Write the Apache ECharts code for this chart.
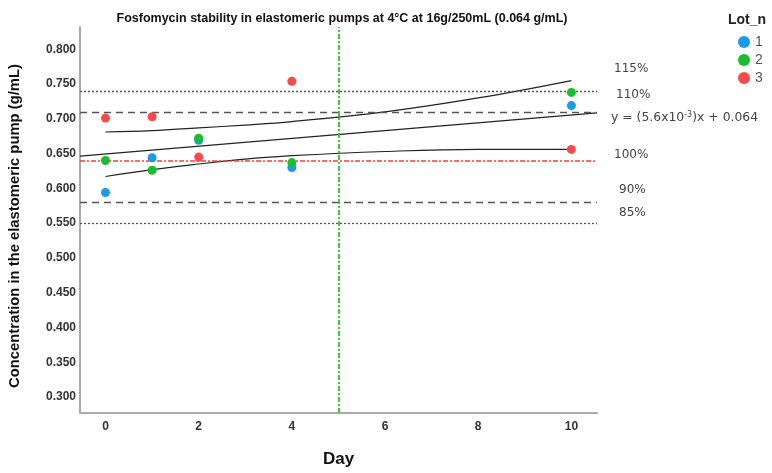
<!DOCTYPE html>
<html>
<head>
<meta charset="utf-8">
<script src="https://cdn.jsdelivr.net/npm/echarts@6/dist/echarts.min.js"></script>
<style>html,body{margin:0;padding:0;background:#fff}#c{width:772px;height:473px}</style>
</head>
<body>
<div id="c"></div>
<script>
// ---- data ----
var days = [0, 1, 2, 4, 10];
var lot1 = [0.594, 0.644, 0.669, 0.630, 0.719];
var lot2 = [0.640, 0.626, 0.672, 0.637, 0.738];
var lot3 = [0.701, 0.703, 0.645, 0.754, 0.656];
var lotNames = ['1', '2', '3'];
var bandDays = [0, 1, 2, 3, 4, 6, 8, 10];
var upperBand = [0.681, 0.683, 0.687, 0.691, 0.696, 0.710, 0.730, 0.755];
var lowerBand = [0.617, 0.627, 0.635, 0.642, 0.647, 0.653, 0.656, 0.656];
var refValues = [0.741, 0.709, 0.644, 0.580, 0.548];
var refLabels = ['115%', '110%', '100%', '90%', '85%'];
var equationText = 'y = (5.6x10{s|-3})x + 0.064';
var limitDay = 5;
var xTicks = [0, 2, 4, 6, 8, 10];
var yTicks = [0.300, 0.350, 0.400, 0.450, 0.500, 0.550, 0.600, 0.650, 0.700, 0.750, 0.800];
var xMin = -0.547, xMax = 10.55, yMin = 0.277, yMax = 0.832;

// least squares fit from all points
var xs = [], ys = [];
[lot1, lot2, lot3].forEach(function (arr) { arr.forEach(function (v, i) { xs.push(days[i]); ys.push(v); }); });
var mx = xs.reduce(function (a, b) { return a + b; }, 0) / xs.length;
var my = ys.reduce(function (a, b) { return a + b; }, 0) / ys.length;
var sxy = 0, sxx = 0;
for (var i = 0; i < xs.length; i++) { sxy += (xs[i] - mx) * (ys[i] - my); sxx += (xs[i] - mx) * (xs[i] - mx); }
var slope = sxy / sxx, icpt = my - slope * mx;
var fitData = [[xMin, icpt + slope * xMin], [xMax, icpt + slope * xMax]];

var chart = echarts.init(document.getElementById('c'), null, { renderer: 'canvas' });
var tickFont = { fontFamily: 'Liberation Sans, Arial, sans-serif', fontWeight: 'bold', fontSize: 12, color: '#333' };
var colors = ['#1a9be8', '#19bd2e', '#f94a4a'];
function pairs(xa, ya) { return ya.map(function (v, i) { return [xa[i], v]; }); }
var gray = '#555';
var refStyles = [
  { color: gray, type: [2, 2], width: 1.3 },
  { color: gray, type: [7, 5], width: 1.3 },
  { color: '#ff3b3b', type: [5, 2, 2, 2], width: 1.6 },
  { color: gray, type: [7, 5], width: 1.3 },
  { color: gray, type: [2, 2], width: 1.3 }
];
var rightLabelPos = [67, 93, 153, 188, 211];
var rightLabelX = [614, 616, 614, 619, 619];
var labelFont = '12px DejaVu Sans, sans-serif';

var option = {
  animation: false,
  backgroundColor: '#fff',
  title: {
    text: 'Fosfomycin stability in elastomeric pumps at 4°C at 16g/250mL (0.064 g/mL)',
    left: 337, textAlign: 'center', top: 7,
    textStyle: { fontFamily: 'Liberation Sans, Arial, sans-serif', fontWeight: 'bold', fontSize: 12.5, color: '#111' }
  },
  legend: {
    data: lotNames, orient: 'vertical', left: 738, top: 35, itemGap: 4, padding: 0,
    icon: 'circle', itemWidth: 12, itemHeight: 12,
    textStyle: { fontFamily: 'Liberation Sans, Arial, sans-serif', fontSize: 14, lineHeight: 14, color: '#555' }
  },
  grid: { left: 80, right: 175, top: 27, bottom: 60, containLabel: false },
  xAxis: {
    type: 'value', min: xMin, max: xMax,
    name: 'Day', nameLocation: 'middle', nameGap: 38,
    nameTextStyle: { fontFamily: 'Liberation Sans, Arial, sans-serif', fontWeight: 'bold', fontSize: 17, color: '#111' },
    axisLine: { show: true, onZero: false, lineStyle: { color: '#aaa', width: 2 } },
    axisTick: { show: false },
    splitLine: { show: false },
    axisLabel: Object.assign({ customValues: xTicks, margin: 8 }, tickFont)
  },
  yAxis: {
    type: 'value', min: yMin, max: yMax,
    axisLine: { show: true, onZero: false, lineStyle: { color: '#aaa', width: 2 } },
    axisTick: { show: false },
    splitLine: { show: false },
    axisLabel: Object.assign({ customValues: yTicks, margin: 4, formatter: function (v) { return v.toFixed(3); } }, tickFont)
  },
  graphic: [
    { type: 'text', left: 728, top: 13, style: { text: 'Lot_n', font: 'bold 14px Liberation Sans, Arial, sans-serif', fill: '#222' } },
    { type: 'text', x: 15, y: 226, rotation: Math.PI / 2,
      style: { text: 'Concentration in the elastomeric pump (g/mL)', font: 'bold 14.8px Liberation Sans, Arial, sans-serif', fill: '#111', align: 'center', verticalAlign: 'middle' } }
  ].concat(refLabels.map(function (t, i) {
    return { type: 'text', left: rightLabelX[i], top: rightLabelPos[i] - 4, style: { text: t, font: labelFont, fill: '#444' } };
  })).concat([
    { type: 'text', left: 611, top: 111, style: {
      text: equationText,
      font: '12.4px DejaVu Sans, sans-serif', fill: '#444',
      rich: { s: { fontSize: 8, fontFamily: 'DejaVu Sans', verticalAlign: 'top', padding: [0, 0, 6, 0], fill: '#444' } }
    } }
  ]),
  series: [
    {
      name: 'refs', type: 'line', data: [], silent: true,
      markLine: {
        silent: true, symbol: 'none', label: { show: false },
        data: refValues.map(function (v, i) { return { yAxis: v, lineStyle: refStyles[i] }; })
          .concat([{ xAxis: limitDay, lineStyle: { color: '#22cc22', type: [5, 2, 2, 2], width: 1.8 } }])
      }
    },
    { name: 'fit', type: 'line', data: fitData, symbol: 'none', lineStyle: { color: '#222', width: 1.2 }, silent: true, z: 3 },
    { name: 'upper', type: 'line', data: pairs(bandDays, upperBand), symbol: 'none', smooth: 0.4, lineStyle: { color: '#222', width: 1.2 }, silent: true, z: 3 },
    { name: 'lower', type: 'line', data: pairs(bandDays, lowerBand), symbol: 'none', smooth: 0.4, lineStyle: { color: '#222', width: 1.2 }, silent: true, z: 3 },
    { name: lotNames[0], type: 'scatter', data: pairs(days, lot1), symbolSize: 9, itemStyle: { color: colors[0], opacity: 1 }, z: 5 },
    { name: lotNames[1], type: 'scatter', data: pairs(days, lot2), symbolSize: 9, itemStyle: { color: colors[1], opacity: 1 }, z: 5 },
    { name: lotNames[2], type: 'scatter', data: pairs(days, lot3), symbolSize: 9, itemStyle: { color: colors[2], opacity: 1 }, z: 5 }
  ]
};
chart.setOption(option);
</script>
</body>
</html>
